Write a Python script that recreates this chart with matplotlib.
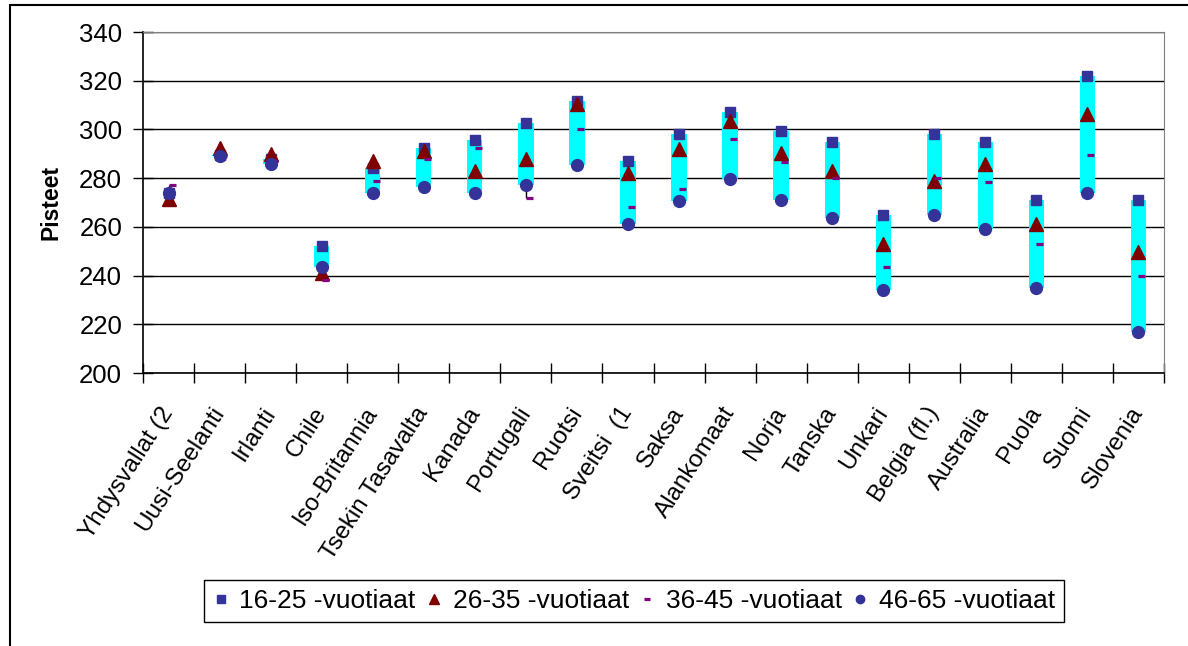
import numpy as np
import matplotlib
matplotlib.use('Agg')
import matplotlib.pyplot as plt
from matplotlib.path import Path
from matplotlib.lines import Line2D
from matplotlib.patches import Rectangle

plt.rcParams['font.family'] = ['Liberation Sans', 'DejaVu Sans']

countries = ['Yhdysvallat (2', 'Uusi-Seelanti', 'Irlanti', 'Chile', 'Iso-Britannia',
             'Tsekin Tasavalta', 'Kanada', 'Portugali', 'Ruotsi', 'Sveitsi  (1',
             'Saksa', 'Alankomaat', 'Norja', 'Tanska', 'Unkari', 'Belgia (fl.)',
             'Australia', 'Puola', 'Suomi', 'Slovenia']

age16_25 = [274, 289.5, 288, 252, 284, 292.5, 295.5, 302.5, 311.5, 287,
            298, 307, 299.5, 295, 265, 298, 295, 271, 322, 271]
age26_35 = [271.5, 292.5, 290, 241, 287, 291, 283, 288, 310.5, 282,
            292, 303.5, 290.5, 283, 253, 279, 286, 261, 306.5, 249.5]
age36_45 = [277, 289, 287, 238, 279, 288, 292.5, 272, 300, 268,
            275.5, 296, 286.5, 280, 243.5, 280, 278.5, 253, 289.5, 240]
age46_65 = [274, 289, 286, 243.5, 274, 276.5, 274, 277, 285.5, 261,
            270.5, 279.5, 271, 263.5, 234, 265, 259, 235, 274, 217]

labels = ['16-25 -vuotiaat', '26-35 -vuotiaat', '36-45 -vuotiaat', '46-65 -vuotiaat']

navy = '#333399'
darkred = '#800000'
purple = '#800080'

x = np.arange(len(countries))
a1, a2, a3, a4 = map(np.array, (age16_25, age26_35, age36_45, age46_65))
allv = np.vstack([a1, a2, a3, a4])

fig = plt.figure(figsize=(11.88, 6.46), dpi=100)
ax = fig.add_axes([143/1188, 1-373/646, (1164-143)/1188, (373-32)/646])

# high-low lines and up/down bars
ax.vlines(x, allv.min(axis=0), allv.max(axis=0), color='black', lw=1, zorder=2)
ax.bar(x, a1 - a4, bottom=a4, width=0.3, color='#00FFFF', zorder=3)

dash = Path([(0, 0), (1, 0)])
ax.plot(x, a1, ls='none', marker='s', ms=7.5, color=navy, zorder=5)
ax.plot(x, a2, ls='none', marker='^', ms=9.5, color=darkred, zorder=5)
ax.plot(x, a3, ls='none', marker=dash, ms=10, mew=2.3, color=purple, zorder=5)
ax.plot(x, a4, ls='none', marker='o', ms=8.5, color=navy, zorder=5)

ax.set_ylim(200, 340)
ax.set_xlim(-0.5, len(countries) - 0.5)
ax.set_yticks(np.arange(200, 341, 20))
ax.yaxis.grid(True, color='black', lw=1)
ax.set_axisbelow(True)
ax.tick_params(axis='y', direction='inout', length=14, width=1, labelsize=18.5, pad=8)

ax.set_xticks(np.arange(-0.5, len(countries)), labels=[])
ax.set_xticks(x, minor=True)
ax.set_xticklabels(countries, minor=True, rotation=57, ha='right', va='center',
                   rotation_mode='anchor', fontsize=17.5)
ax.tick_params(axis='x', which='major', direction='inout', length=14, width=1)
ax.tick_params(axis='x', which='minor', length=0, pad=26)

for s in ['top', 'right']:
    ax.spines[s].set_color('#808080')
for s in ['left', 'bottom']:
    ax.spines[s].set_color('black')
    ax.spines[s].set_linewidth(1.2)

ax.set_ylabel('Pisteet', fontsize=16.5, fontweight='bold', labelpad=12)

handles = [
    Line2D([], [], ls='none', marker='s', ms=6, color=navy),
    Line2D([], [], ls='none', marker='^', ms=7, color=darkred),
    Line2D([], [], ls='none', marker='_', ms=5, mew=2.3, color=purple),
    Line2D([], [], ls='none', marker='o', ms=6, color=navy),
]
leg = fig.legend(handles, labels, loc='center', bbox_to_anchor=(634/1188, 1-601/646),
                 ncol=4, fontsize=19, frameon=True, fancybox=False, edgecolor='black',
                 handlelength=0.6, handletextpad=0.4, columnspacing=0.4,
                 borderpad=0.35, framealpha=1)
leg.get_frame().set_linewidth(1)

fig.patches.append(Rectangle((10/1188, -0.1), 2, 1 - 5/646 + 0.1, transform=fig.transFigure,
                             fill=False, edgecolor='black', lw=1.5))

fig.savefig('out.png', dpi=100)
